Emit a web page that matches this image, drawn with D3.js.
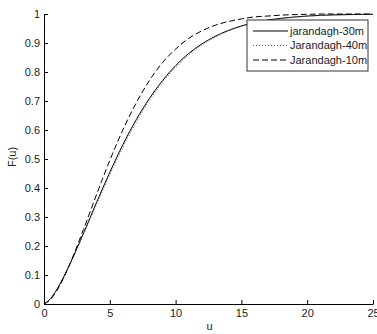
<!DOCTYPE html>
<html>
<head>
<meta charset="utf-8">
<script src="https://cdn.jsdelivr.net/npm/d3@7"></script>
<style>
  body { margin: 0; background: #fff; }
  svg { display: block; font-family: "Liberation Sans", Arial, sans-serif; }
</style>
</head>
<body>
<svg class="chart" width="377" height="334"></svg>
<script>
// values
var uVals = [0, 0.5, 1, 1.5, 2, 3, 4, 5, 6, 7, 8, 9, 10, 11, 12, 13, 14, 15, 16, 17, 18, 20, 22, 25];
var f30 = [0, 0.019, 0.052, 0.094, 0.141, 0.244, 0.351, 0.454, 0.550, 0.635, 0.708, 0.770, 0.822, 0.864, 0.897, 0.923, 0.943, 0.959, 0.970, 0.979, 0.985, 0.993, 0.997, 0.999];
var f40 = [0, 0.018, 0.050, 0.090, 0.137, 0.239, 0.344, 0.446, 0.541, 0.626, 0.701, 0.764, 0.816, 0.859, 0.893, 0.920, 0.941, 0.957, 0.969, 0.978, 0.984, 0.992, 0.996, 0.999];
var f10 = [0, 0.016, 0.048, 0.091, 0.142, 0.257, 0.378, 0.495, 0.601, 0.693, 0.770, 0.832, 0.879, 0.916, 0.942, 0.961, 0.974, 0.983, 0.990, 0.993, 0.996, 0.999, 1.0, 1.0];
var seriesNames = ["jarandagh-30m", "Jarandagh-40m", "Jarandagh-10m"];
var xTicks = [0, 5, 10, 15, 20, 25];
var yTicks = [0, 0.1, 0.2, 0.3, 0.4, 0.5, 0.6, 0.7, 0.8, 0.9, 1];

var svg = d3.select(".chart"),
  margin = { top: 14, right: 4, bottom: 30, left: 44 },
  width = +svg.attr("width") - margin.left - margin.right,
  height = +svg.attr("height") - margin.top - margin.bottom,
  g = svg.append("g")
    .attr("transform", "translate(" + margin.left + "," + margin.top + ")");

var x = d3.scaleLinear().domain([0, 25]).range([0, width]);
var y = d3.scaleLinear().domain([0, 1]).range([height, 0]);

var styles = [
  { stroke: "#000", dash: null },
  { stroke: "#555", dash: "1,2" },
  { stroke: "#000", dash: "6,3" }
];
var series = [f30, f40, f10];

var line = d3.line()
  .x(function (d) { return x(d[0]); })
  .y(function (d) { return y(d[1]); })
  .curve(d3.curveMonotoneX);

series.forEach(function (s, i) {
  g.append("path")
    .datum(uVals.map(function (u, j) { return [u, s[j]]; }))
    .attr("fill", "none")
    .attr("stroke", styles[i].stroke)
    .attr("stroke-width", 1)
    .attr("stroke-dasharray", styles[i].dash)
    .attr("d", line);
});

// axes
var yAxis = g.append("g")
  .call(d3.axisLeft(y).tickValues(yTicks).tickFormat(d3.format("")).tickSizeInner(-4).tickSizeOuter(0).tickPadding(4));
var xAxis = g.append("g")
  .attr("transform", "translate(0," + height + ")")
  .call(d3.axisBottom(x).tickValues(xTicks).tickSizeInner(-4).tickSizeOuter(0).tickPadding(5));

[xAxis, yAxis].forEach(function (a) {
  a.attr("font-family", "Liberation Sans, Arial, sans-serif").attr("font-size", 11);
  a.selectAll("text").attr("fill", "#222");
});

svg.append("text")
  .attr("x", margin.left + width / 2 + 1)
  .attr("y", 330)
  .attr("text-anchor", "middle")
  .attr("font-size", 11)
  .attr("fill", "#222")
  .text("u");

svg.append("text")
  .attr("transform", "translate(16,157) rotate(-90)")
  .attr("text-anchor", "middle")
  .attr("font-size", 11)
  .attr("fill", "#222")
  .text("F(u)");

// legend
var legend = svg.append("g").attr("transform", "translate(247,20)");
legend.append("rect")
  .attr("width", 121)
  .attr("height", 51)
  .attr("fill", "#fff")
  .attr("stroke", "#333");

var items = legend.selectAll("g.item")
  .data(seriesNames)
  .enter()
  .append("g")
  .attr("transform", function (d, i) { return "translate(0," + (11 + i * 14.5) + ")"; });

items.append("line")
  .attr("x1", 6)
  .attr("x2", 41)
  .attr("stroke", function (d, i) { return styles[i].stroke; })
  .attr("stroke-dasharray", function (d, i) { return styles[i].dash; });

items.append("text")
  .attr("x", 43)
  .attr("dy", "0.35em")
  .attr("font-size", 11)
  .attr("fill", "#222")
  .text(function (d) { return d; });
</script>
</body>
</html>
